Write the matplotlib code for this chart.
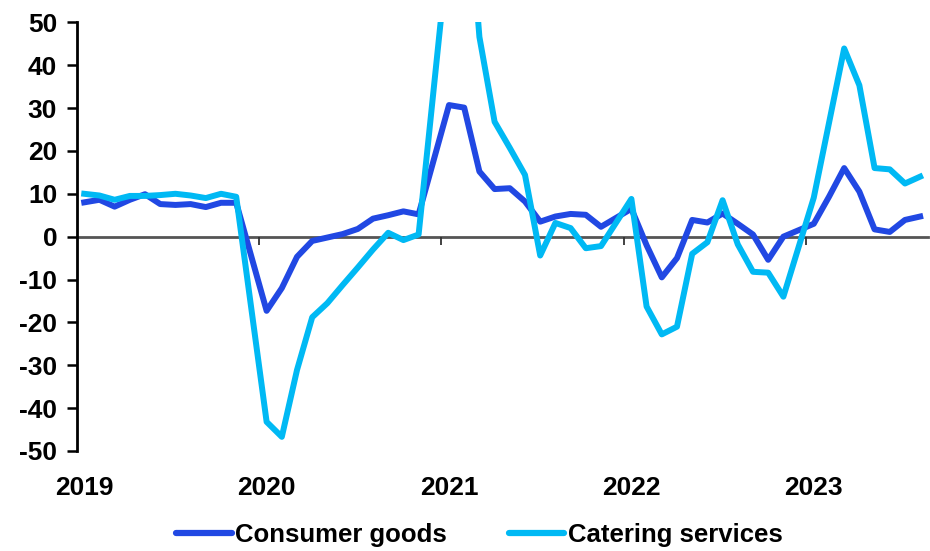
import numpy as np
import matplotlib
matplotlib.use("Agg")
import matplotlib.pyplot as plt

plt.rcParams['font.family'] = ['Liberation Sans', 'DejaVu Sans']
plt.rcParams['font.weight'] = 'bold'
plt.rcParams['axes.unicode_minus'] = False

# monthly slots Feb-2019 .. Sep-2023, January slots empty (Jan-Feb reported together)
consumer_goods = [
    8.0, 8.6, 7.0, 8.6, 9.9, 7.6, 7.4, 7.6, 6.9, 7.9, 7.9, None,
    -17.3, -12.0, -4.7, -1.0, -0.2, 0.6, 1.8, 4.2, 5.0, 5.9, 5.2, None,
    30.7, 30.1, 15.2, 11.1, 11.3, 8.2, 3.5, 4.7, 5.3, 5.1, 2.3, None,
    6.5, -2.0, -9.5, -5.0, 3.9, 3.3, 5.4, 3.0, 0.5, -5.4, 0.0, None,
    3.0, 9.3, 16.0, 10.5, 1.7, 1.1, 3.9, 4.7,
]
catering_services = [
    10.0, 9.6, 8.6, 9.5, 9.5, 9.7, 10.0, 9.6, 9.0, 10.0, 9.3, None,
    -43.2, -46.7, -31.1, -18.8, -15.5, -11.3, -7.2, -3.0, 0.9, -0.8, 0.5, None,
    68.9, 91.6, 46.6, 26.8, 20.7, 14.4, -4.4, 3.2, 2.0, -2.7, -2.2, None,
    8.8, -16.3, -22.8, -21.0, -4.0, -1.3, 8.5, -1.8, -8.2, -8.4, -14.0, None,
    9.1, 26.5, 43.9, 35.3, 16.0, 15.7, 12.4, 14.0,
]
year_labels = ['2019', '2020', '2021', '2022', '2023']
series_names = ['Consumer goods', 'Catering services']
series_colors = ['#2148E3', '#00B9F4']

fig = plt.figure(figsize=(9.3, 5.51), dpi=100)
ax = fig.add_axes([0.0824, 0.1815, 0.9152, 0.778])

for vals, name, col in zip([consumer_goods, catering_services], series_names, series_colors):
    y = np.array([np.nan if v is None else v for v in vals])
    x = np.arange(len(y))
    ok = ~np.isnan(y)
    ax.plot(x[ok], y[ok], color=col, lw=4.3, label=name, solid_joinstyle='round')

n = len(consumer_goods)
ax.set_xlim(-0.5, n - 0.5)
ax.set_ylim(-50, 50)
ax.set_yticks(np.arange(-50, 51, 10))
ax.tick_params(axis='y', length=7, width=1.8, labelsize=19, pad=7)
for lab in ax.get_yticklabels():
    lab.set_fontweight('bold')

# zero line with year-boundary ticks
ax.spines['bottom'].set_position(('data', 0))
ax.spines['bottom'].set_color('#555555')
ax.spines['bottom'].set_linewidth(2)
ax.spines['bottom'].set_zorder(1)
ax.set_xticks(np.arange(11.5, n, 12))
ax.tick_params(axis='x', length=6, width=1.3, color='#333333', labelbottom=False)
ax.spines['left'].set_linewidth(2)
ax.spines['top'].set_visible(False)
ax.spines['right'].set_visible(False)

# year labels at the axes bottom
sec = ax.secondary_xaxis(0.0)
sec.set_xticks(np.arange(0, n, 12)[:len(year_labels)], year_labels)
sec.tick_params(length=0, labelsize=19, pad=18)
for lab in sec.get_xticklabels():
    lab.set_fontweight('bold')
sec.spines['bottom'].set_visible(False)

leg = fig.legend(loc='center', bbox_to_anchor=(0.5156, 0.029), ncol=2, frameon=False,
                 handlelength=2.15, handletextpad=0.15, columnspacing=2.4,
                 prop={'size': 18.5, 'weight': 'bold'})
for h in leg.get_lines():
    h.set_linewidth(4.5)
    h.set_solid_capstyle('round')

fig.savefig('out.png', dpi=100)
